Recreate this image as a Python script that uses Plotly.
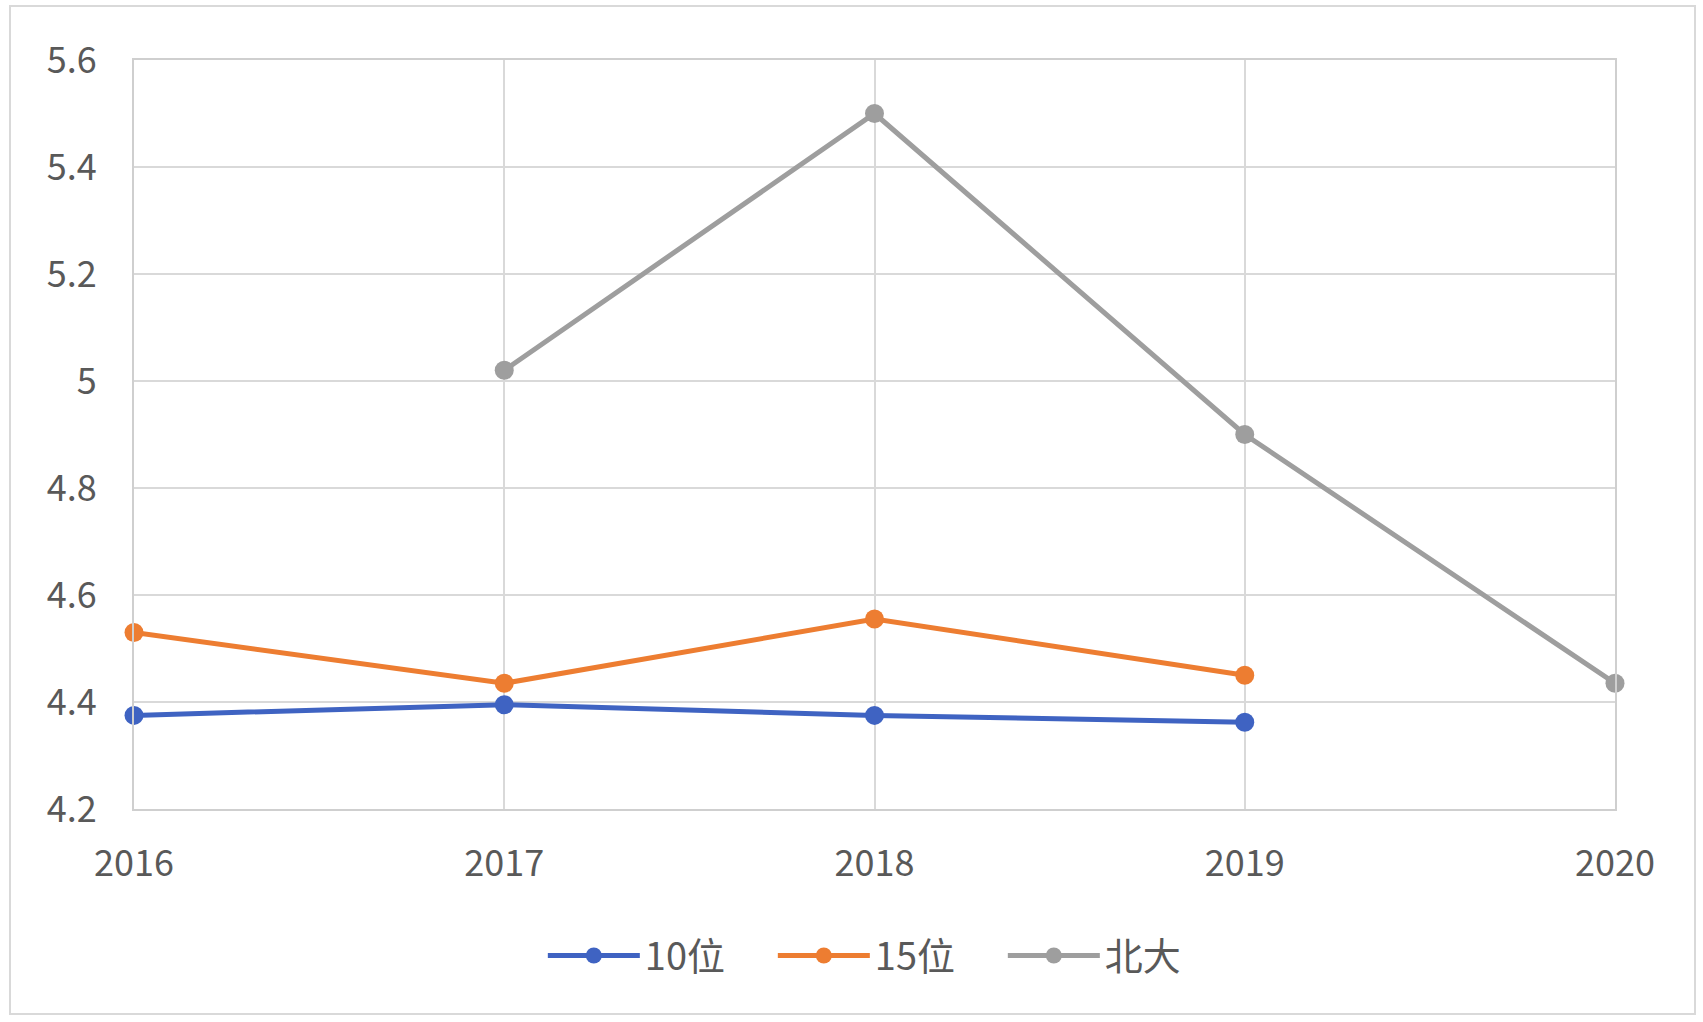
import plotly.graph_objects as go

# Years on the category axis
years = [2016, 2017, 2018, 2019, 2020]

# Series values (None where a year has no value)
rank10 = [4.375, 4.395, 4.375, 4.362, None]
rank15 = [4.53, 4.435, 4.555, 4.45, None]
beida = [None, 5.02, 5.5, 4.9, 4.435]

series_names = ["10位", "15位", "北大"]
series_colors = ["#3F63C2", "#ED7D31", "#9E9E9E"]

y_ticks = [4.2, 4.4, 4.6, 4.8, 5.0, 5.2, 5.4, 5.6]
y_tick_labels = ["4.2", "4.4", "4.6", "4.8", "5", "5.2", "5.4", "5.6"]

font_family = "Noto Sans CJK SC, Noto Sans, sans-serif"
text_color = "#595959"
grid_color = "#D9D9D9"

fig = go.Figure()
for name, values, color in zip(series_names, [rank10, rank15, beida], series_colors):
    fig.add_trace(go.Scatter(
        x=years, y=values, name=name, mode="lines+markers",
        line=dict(color=color, width=5),
        marker=dict(color=color, size=19),
        connectgaps=False, cliponaxis=False,
    ))

fig.update_layout(
    width=1703, height=1022,
    margin=dict(l=134, r=88, t=60, b=213),
    paper_bgcolor="white", plot_bgcolor="white",
    font=dict(family=font_family, size=36, color=text_color),
    showlegend=True,
    legend=dict(
        orientation="h", x=0.509, xanchor="center", y=-0.196, yanchor="middle",
        font=dict(size=38, color=text_color), itemwidth=92,
        entrywidth=123, entrywidthmode="pixels",
        bgcolor="rgba(0,0,0,0)",
    ),
    xaxis=dict(
        range=[2016, 2020], tickmode="array", tickvals=years,
        ticktext=[str(y) for y in years],
        showgrid=True, gridcolor=grid_color, gridwidth=2,
        showline=True, linecolor="#CFCFCF", linewidth=2, mirror=True,
        zeroline=False, ticks="", ticklabelstandoff=22,
    ),
    yaxis=dict(
        range=[4.2, 5.6], tickmode="array", tickvals=y_ticks,
        ticktext=y_tick_labels,
        showgrid=True, gridcolor=grid_color, gridwidth=2,
        showline=True, linecolor="#CFCFCF", linewidth=2, mirror=True,
        zeroline=False, ticks="", ticklabelstandoff=28,
    ),
    shapes=[dict(
        type="rect", xref="paper", yref="paper",
        x0=-124 / 1481, x1=1.0 + 80 / 1481,
        y0=-205 / 749, y1=1.0 + 54 / 749,
        line=dict(color="#D9D9D9", width=2), layer="below",
    )],
)

fig.write_html("out.html")
